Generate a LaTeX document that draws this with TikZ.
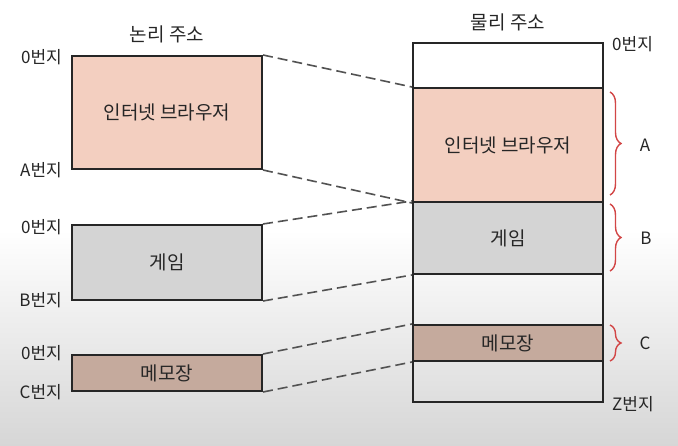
\documentclass[tikz,border=0pt]{standalone}
\usepackage{fontspec}
\setmainfont{Noto Sans CJK KR}
\usetikzlibrary{decorations.pathreplacing}
\definecolor{browser}{RGB}{243,207,192}
\definecolor{game}{RGB}{212,212,212}
\definecolor{memo}{RGB}{197,170,157}
\definecolor{bracered}{RGB}{210,70,70}
\definecolor{bgbottom}{RGB}{214,214,214}
\tikzset{
  memblock/.style={draw=black!85, line width=2pt, minimum width=190pt, inner sep=0pt, font=\fontsize{19}{22}\selectfont, text=black!85},
  addr/.style={font=\fontsize{17}{20}\selectfont, text=black!85, inner sep=0pt},
  title/.style={font=\fontsize{19}{22}\selectfont, text=black!85, inner sep=0pt},
  mapline/.style={dash pattern=on 10pt off 5pt, line width=1.6pt, draw=black!68},
  redbrace/.style={decorate, decoration={brace, amplitude=11pt}, draw=bracered, line width=1.4pt},
  bracelbl/.style={font=\fontsize{17}{20}\selectfont, text=black!85, inner sep=0pt}
}
\begin{document}
\begin{tikzpicture}[x=1pt,y=-1pt]
\useasboundingbox (0,0) rectangle (678,446);
\fill[white] (0,0) rectangle (678,446);
\shade[top color=white, bottom color=bgbottom] (0,230) rectangle (678,446);

% titles
\node[title] (tl) at (167,34) {논리 주소};
\node[title] (tp) at (508,22) {물리 주소};

% logical blocks
\node[memblock, fill=browser, minimum height=113pt] (lb) at (167,112.5) {인터넷 브라우저};
\node[memblock, fill=game, minimum height=75pt] (lg) at (167,262.5) {게임};
\node[memblock, fill=memo, minimum height=36pt] (lm) at (167,373) {메모장};

% physical memory
\node[memblock, minimum height=359pt] (phys) at (508,222.5) {};
\node[memblock, fill=browser, minimum height=114pt] (pb) at (508,145) {인터넷 브라우저};
\node[memblock, fill=game, minimum height=72pt] (pg) at (508,238) {게임};
\node[memblock, fill=memo, minimum height=36pt] (pm) at (508,343) {메모장};

% address labels
\node[addr, anchor=east] (a1) at (62,57) {0번지};
\node[addr, anchor=east] (a2) at (62,170) {A번지};
\node[addr, anchor=east] (a3) at (62,227) {0번지};
\node[addr, anchor=east] (a4) at (62,300) {B번지};
\node[addr, anchor=east] (a5) at (62,353) {0번지};
\node[addr, anchor=east] (a6) at (62,392) {C번지};
\node[addr, anchor=west] (a7) at (612,44) {0번지};
\node[addr, anchor=west] (a8) at (612,404) {Z번지};

% mapping lines
\draw[mapline] (lb.north east) -- (pb.north west);
\draw[mapline] (lb.south east) -- (pb.south west);
\draw[mapline] (lg.north east) -- (pg.north west);
\draw[mapline] (lg.south east) -- (pg.south west);
\draw[mapline] (lm.north east) -- (pm.north west);
\draw[mapline] (lm.south east) -- (pm.south west);

% braces
\coordinate (ba1) at (610,92);  \coordinate (ba2) at (610,195);
\coordinate (bb1) at (610,204); \coordinate (bb2) at (610,271);
\coordinate (bc1) at (610,325); \coordinate (bc2) at (610,361);
\draw[redbrace] (ba1) -- (ba2);
\draw[redbrace] (bb1) -- (bb2);
\draw[redbrace] (bc1) -- (bc2);
\node[bracelbl] (la) at (645,145) {A};
\node[bracelbl] (lbb) at (646,238) {B};
\node[bracelbl] (lc) at (645,343) {C};
\end{tikzpicture}
\end{document}
